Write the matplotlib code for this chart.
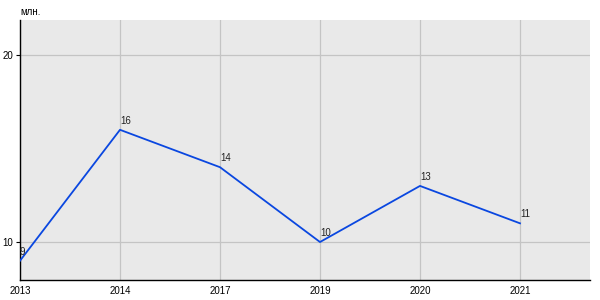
import matplotlib.pyplot as plt

years = ['2013', '2014', '2017', '2019', '2020', '2021']
values = [9, 16, 14, 10, 13, 11]
y_ticks = [10, 20]

plt.rcParams['font.family'] = ['Liberation Sans', 'DejaVu Sans']

fig = plt.figure(figsize=(6, 3), dpi=100)
ax = fig.add_axes([20 / 600, 20 / 300, 570 / 600, 260 / 300])
ax.set_facecolor('#e9e9e9')

x = list(range(len(years)))
ax.plot(x, values, color='#0a47e0', lw=1.3, zorder=3)
for xi, v in zip(x, values):
    ax.annotate(str(v), (xi, v), xytext=(0, 3), textcoords='offset points',
                fontsize=7, color='#222222', ha='left', va='bottom')

ax.set_xlim(0, 5.7)
ax.set_ylim(7.97, 21.87)
ax.set_xticks(x)
ax.set_xticklabels(years)
ax.set_yticks(y_ticks)
ax.grid(True, color='#c4c4c4', lw=0.9)
ax.set_axisbelow(True)
ax.tick_params(axis='x', length=0, pad=4, labelsize=7)
ax.tick_params(axis='y', length=3, width=0.8, pad=2, labelsize=7)
for s in ['top', 'right']:
    ax.spines[s].set_visible(False)
for s in ['left', 'bottom']:
    ax.spines[s].set_color('black')
    ax.spines[s].set_linewidth(1)

fig.text(20 / 600, 1 - 12 / 300, 'млн.', fontsize=7, ha='left', va='center')

plt.savefig('out.png')
